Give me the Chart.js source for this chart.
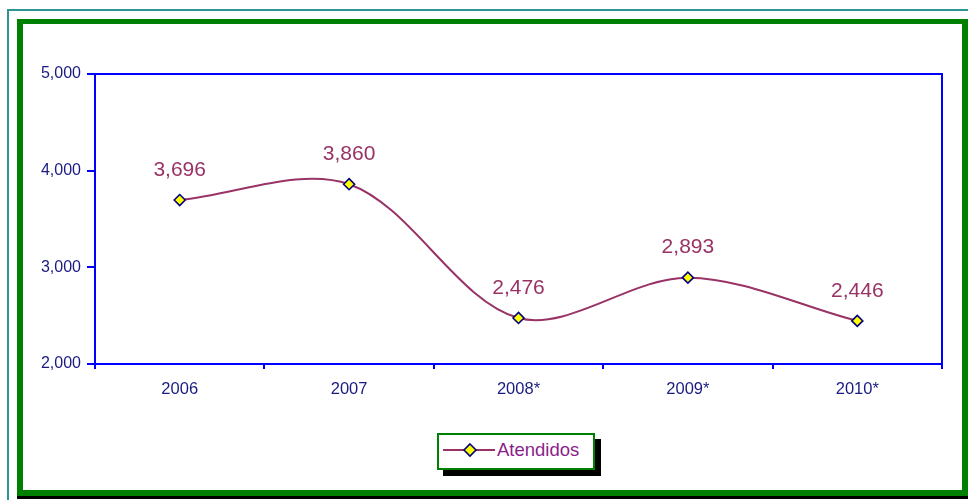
<!DOCTYPE html>
<html>
<head>
<meta charset="utf-8">
<script src="https://cdn.jsdelivr.net/npm/chart.js@4/dist/chart.umd.min.js"></script>
<style>
  html,body{margin:0;padding:0;background:#fff;}
  body{width:968px;height:500px;position:relative;overflow:hidden;font-family:"Liberation Sans",Arial,sans-serif;}
  #teal{position:absolute;left:7px;top:9px;width:1000px;height:1000px;border:2px solid #2f9494;box-sizing:border-box;}
  #green{position:absolute;left:17px;top:19px;width:951px;height:477px;border:6px solid #008000;border-top-width:5px;box-sizing:border-box;background:#fff;box-shadow:0 3px 0 #000;}
  #wrap{position:absolute;left:0;top:0;width:968px;height:500px;}
  #legShadow{position:absolute;left:443px;top:439px;width:158px;height:37px;background:#000;}
  #legend{position:absolute;left:437px;top:433px;width:158px;height:37px;border:2px solid #008000;box-sizing:border-box;background:#fff;}
  #legend svg{position:absolute;left:4px;top:6px;}
  #legend span{position:absolute;left:58px;top:4px;font-size:18.5px;color:#8b1e8b;font-family:"Liberation Sans",Arial,sans-serif;}
</style>
</head>
<body>
<div id="teal"></div>
<div id="green"></div>
<div id="wrap"><canvas id="c" width="968" height="500"></canvas></div>
<div id="legShadow"></div>
<div id="legend">
  <svg width="54" height="20"><line x1="0" y1="9" x2="52" y2="9" stroke="#993366" stroke-width="2"/><polygon points="27,3 33,9 27,15 21,9" fill="#ffff00" stroke="#000080" stroke-width="1.6"/></svg>
  <span>Atendidos</span>
</div>
<script>
const categories = ["2006", "2007", "2008*", "2009*", "2010*"];
const atendidos = [3696, 3860, 2476, 2893, 2446];
const seriesName = "Atendidos";
const yMin = 2000, yMax = 5000, yStep = 1000;

const fmt = v => Number(v).toLocaleString('en-US');

const frameAndLabels = {
  id: 'frameAndLabels',
  afterDatasetsDraw(chart) {
    const {ctx, chartArea: a} = chart;
    ctx.save();
    ctx.strokeStyle = '#0000ff';
    ctx.lineWidth = 2;
    ctx.strokeRect(a.left, a.top, a.right - a.left, a.bottom - a.top);
    const meta = chart.getDatasetMeta(0);
    ctx.fillStyle = '#993366';
    ctx.font = '21px "Liberation Sans", Arial, sans-serif';
    ctx.textAlign = 'center';
    ctx.textBaseline = 'middle';
    meta.data.forEach((pt, i) => {
      ctx.fillText(fmt(chart.data.datasets[0].data[i]), pt.x, pt.y - 30);
    });
    ctx.restore();
  }
};

new Chart(document.getElementById('c'), {
  type: 'line',
  data: {
    labels: categories,
    datasets: [{
      label: seriesName,
      data: atendidos,
      borderColor: '#993366',
      borderWidth: 2,
      tension: 0.33,
      pointStyle: 'rectRot',
      pointRadius: 5.5,
      pointBackgroundColor: '#ffff00',
      pointBorderColor: '#000080',
      pointBorderWidth: 1.6,
      clip: false
    }]
  },
  options: {
    responsive: false,
    animation: false,
    devicePixelRatio: 1,
    layout: {padding: {left: 0, right: 26, top: 74, bottom: 0}},
    plugins: {legend: {display: false}, tooltip: {enabled: false}},
    scales: {
      x: {
        offset: true,
        grid: {offset: true, drawOnChartArea: false, color: '#0000ff', tickLength: 5, lineWidth: 2},
        border: {color: '#0000ff', width: 2},
        ticks: {color: '#1a1a80', font: {size: 16.5, family: '"Liberation Sans", Arial, sans-serif'}, padding: 11},
        afterFit(s) { s.height = 136; }
      },
      y: {
        min: yMin, max: yMax,
        grid: {drawOnChartArea: false, color: '#0000ff', tickLength: 8, lineWidth: 2},
        border: {color: '#0000ff', width: 2},
        ticks: {stepSize: yStep, color: '#1a1a80', padding: 6, font: {size: 16, family: '"Liberation Sans", Arial, sans-serif'}, callback: v => fmt(v)},
        afterFit(s) { s.width = 95; }
      }
    }
  },
  plugins: [frameAndLabels]
});
</script>
</body>
</html>
